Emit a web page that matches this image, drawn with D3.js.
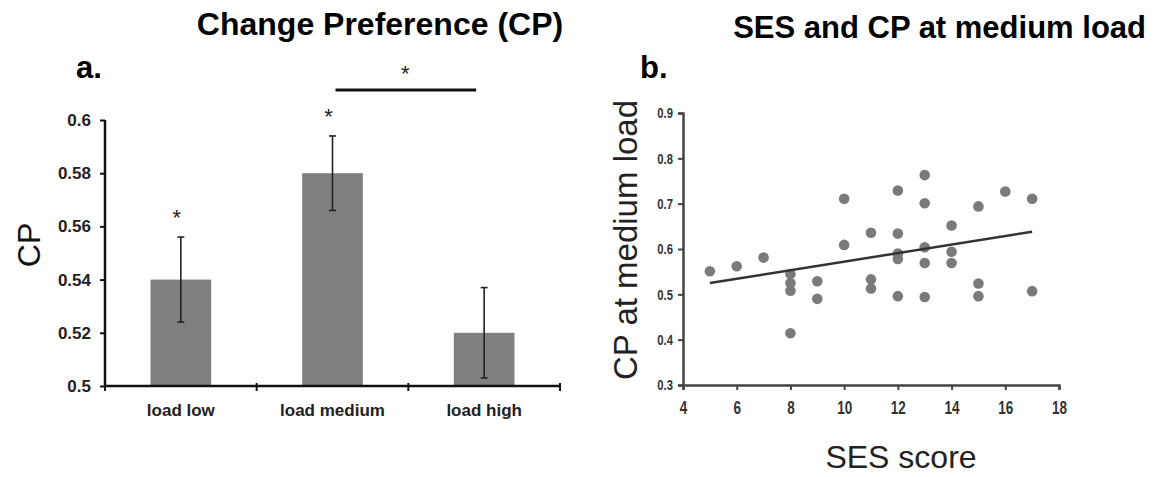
<!DOCTYPE html>
<html>
<head>
<meta charset="utf-8">
<script src="https://cdn.jsdelivr.net/npm/d3@7"></script>
<style>
  body { margin: 0; background: #fff; }
  svg { display: block; font-family: "Liberation Sans", Arial, sans-serif; }
</style>
</head>
<body>
<div id="chart"></div>
<script>
var svgWidth = 1155;
var svgHeight = 477;

// panel a: bar chart
var loadLevels = ["load low", "load medium", "load high"];
var cpMeans = [0.54, 0.58, 0.52];
var cpErrors = [0.016, 0.014, 0.017];
var cpTicks = [0.5, 0.52, 0.54, 0.56, 0.58, 0.6];
var starBars = ["load low", "load medium"];

// panel b: scatter
var sesScore = [5, 6, 7, 8, 8, 8, 8, 9, 9, 10, 10, 11, 11, 11,
  12, 12, 12, 12, 12, 13, 13, 13, 13, 13, 14, 14, 14, 15, 15, 15, 16, 17, 17];
var cpMedium = [0.551, 0.562, 0.581, 0.545, 0.525, 0.508, 0.414, 0.529, 0.490, 0.711, 0.609, 0.636, 0.533, 0.513,
  0.729, 0.634, 0.590, 0.578, 0.496, 0.763, 0.701, 0.604, 0.569, 0.494, 0.652, 0.594, 0.569, 0.694, 0.524, 0.496, 0.727, 0.711, 0.507];
var trendSes = [5, 17];
var trendCp = [0.525, 0.638];
var sesTicks = [4, 6, 8, 10, 12, 14, 16, 18];
var cpTicksB = [0.3, 0.4, 0.5, 0.6, 0.7, 0.8, 0.9];

var svg = d3.select("#chart")
  .append("svg")
  .attr("width", svgWidth)
  .attr("height", svgHeight);

// ---------- panel a ----------
var xScale = d3.scaleBand()
  .domain(loadLevels)
  .range([105, 560])
  .paddingInner(0.6)
  .paddingOuter(0.3);

var yScale = d3.scaleLinear()
  .domain([0.5, 0.6])
  .range([386, 120]);

svg.append("text")
  .attr("x", 380).attr("y", 35)
  .attr("text-anchor", "middle")
  .style("font-size", "32px").style("font-weight", "bold")
  .text("Change Preference (CP)");

svg.append("text")
  .attr("x", 76).attr("y", 78)
  .style("font-size", "31px").style("font-weight", "bold")
  .text("a.");

svg.selectAll("rect.bar")
  .data(loadLevels)
  .enter()
  .append("rect")
  .attr("class", "bar")
  .attr("x", function(d) { return xScale(d); })
  .attr("y", function(d, i) { return yScale(cpMeans[i]); })
  .attr("width", xScale.bandwidth())
  .attr("height", function(d, i) { return yScale(0.5) - yScale(cpMeans[i]); })
  .attr("fill", "#7f7f7f");

// error bars
var eb = svg.selectAll("g.err")
  .data(loadLevels)
  .enter()
  .append("g")
  .attr("class", "err")
  .attr("stroke", "#222")
  .attr("stroke-width", 1.6);
eb.append("line")
  .attr("x1", function(d) { return xScale(d) + xScale.bandwidth() / 2; })
  .attr("x2", function(d) { return xScale(d) + xScale.bandwidth() / 2; })
  .attr("y1", function(d, i) { return yScale(cpMeans[i] + cpErrors[i]); })
  .attr("y2", function(d, i) { return yScale(cpMeans[i] - cpErrors[i]); });
[1, -1].forEach(function(s) {
  eb.append("line")
    .attr("x1", function(d) { return xScale(d) + xScale.bandwidth() / 2 - 3.5; })
    .attr("x2", function(d) { return xScale(d) + xScale.bandwidth() / 2 + 3.5; })
    .attr("y1", function(d, i) { return yScale(cpMeans[i] + s * cpErrors[i]); })
    .attr("y2", function(d, i) { return yScale(cpMeans[i] + s * cpErrors[i]); });
});

// stars above bars
svg.selectAll("text.star")
  .data(starBars)
  .enter()
  .append("text")
  .attr("class", "star")
  .attr("x", function(d) { return xScale(d) + xScale.bandwidth() / 2 - 4; })
  .attr("y", function(d) {
    var i = loadLevels.indexOf(d);
    return yScale(cpMeans[i] + cpErrors[i]) - 12;
  })
  .attr("text-anchor", "middle")
  .style("font-size", "22px")
  .attr("fill", "#222")
  .text("*");

// significance bracket between medium and high
var midX = xScale("load medium") + xScale.bandwidth() / 2;
var highX = xScale("load high") + xScale.bandwidth() / 2;
svg.append("line")
  .attr("x1", midX + 3).attr("x2", highX - 8)
  .attr("y1", 90).attr("y2", 90)
  .attr("stroke", "#111").attr("stroke-width", 3);
svg.append("text")
  .attr("x", (midX + highX) / 2 - 3).attr("y", 81)
  .attr("text-anchor", "middle")
  .style("font-size", "22px")
  .attr("fill", "#222")
  .text("*");

// axes
var yAxis = d3.axisLeft(yScale)
  .tickValues(cpTicks)
  .tickSize(5)
  .tickPadding(9)
  .tickFormat(function(d) { return d3.format("")(+d.toFixed(2)); });
var gy = svg.append("g")
  .attr("transform", "translate(105,0)")
  .call(yAxis);
gy.select(".domain").attr("stroke", "#111").attr("stroke-width", 2.5).attr("d", "M0,386V120");
gy.selectAll(".tick line").attr("stroke", "#111").attr("stroke-width", 2);
gy.selectAll(".tick text")
  .style("font-size", "17px").style("font-weight", "bold").attr("fill", "#222");

var gx = svg.append("g")
  .attr("transform", "translate(0,386)");
gx.append("line")
  .attr("x1", 105).attr("x2", 560)
  .attr("stroke", "#111").attr("stroke-width", 2.5);
gx.selectAll("line.ct")
  .data(d3.range(loadLevels.length + 1))
  .enter()
  .append("line")
  .attr("class", "ct")
  .attr("x1", function(d) { return xScale.range()[0] + d * (xScale.range()[1] - xScale.range()[0]) / loadLevels.length; })
  .attr("x2", function(d) { return xScale.range()[0] + d * (xScale.range()[1] - xScale.range()[0]) / loadLevels.length; })
  .attr("y1", -3).attr("y2", 5)
  .attr("stroke", "#111").attr("stroke-width", 2);
gx.selectAll("text")
  .data(loadLevels)
  .enter()
  .append("text")
  .attr("x", function(d) { return xScale(d) + xScale.bandwidth() / 2; })
  .attr("y", 30)
  .attr("text-anchor", "middle")
  .style("font-size", "17px").style("font-weight", "bold").attr("fill", "#222")
  .text(function(d) { return d; });

svg.append("text")
  .attr("transform", "translate(40,245) rotate(-90)")
  .attr("text-anchor", "middle")
  .style("font-size", "32px")
  .attr("fill", "#111")
  .text("CP");

// ---------- panel b ----------
var xScaleB = d3.scaleLinear()
  .domain([4, 18])
  .range([683, 1059]);
var yScaleB = d3.scaleLinear()
  .domain([0.3, 0.9])
  .range([385, 113]);

svg.append("text")
  .attr("x", 1146).attr("y", 38)
  .attr("text-anchor", "end")
  .style("font-size", "31px").style("font-weight", "bold")
  .text("SES and CP at medium load");

svg.append("text")
  .attr("x", 640).attr("y", 78)
  .style("font-size", "31px").style("font-weight", "bold")
  .text("b.");

var yAxisB = d3.axisLeft(yScaleB)
  .tickValues(cpTicksB)
  .tickSize(5)
  .tickPadding(0)
  .tickFormat(d3.format(".1f"));
var gyb = svg.append("g")
  .attr("transform", "translate(683,0)")
  .call(yAxisB);
gyb.select(".domain").attr("stroke", "#444").attr("stroke-width", 2.5);
gyb.selectAll(".tick line").attr("stroke", "#444").attr("stroke-width", 2);
gyb.selectAll(".tick text")
  .attr("x", null)
  .attr("transform", "translate(-10,0) scale(0.75,1)")
  .style("font-size", "15px").style("font-weight", "bold").attr("fill", "#333");

var xAxisB = d3.axisBottom(xScaleB)
  .tickValues(sesTicks)
  .tickSize(5)
  .tickPadding(0);
var gxb = svg.append("g")
  .attr("transform", "translate(0,385)")
  .call(xAxisB);
gxb.select(".domain").attr("stroke", "#444").attr("stroke-width", 2.5);
gxb.selectAll(".tick line").attr("stroke", "#444").attr("stroke-width", 2);
gxb.selectAll(".tick text")
  .attr("y", null).attr("dy", null)
  .attr("transform", "translate(0,29) scale(0.75,1)")
  .style("font-size", "18px").style("font-weight", "bold").attr("fill", "#333");

svg.selectAll("circle.pt")
  .data(sesScore)
  .enter()
  .append("circle")
  .attr("class", "pt")
  .attr("cx", function(d) { return xScaleB(d); })
  .attr("cy", function(d, i) { return yScaleB(cpMedium[i]); })
  .attr("r", 5.3)
  .attr("fill", "#7a7a7a");

var trend = d3.line()
  .x(function(d) { return xScaleB(d); })
  .y(function(d, i) { return yScaleB(trendCp[i]); });
svg.append("path")
  .attr("d", trend(trendSes))
  .attr("fill", "none")
  .attr("stroke", "#333")
  .attr("stroke-width", 2.5);

svg.append("text")
  .attr("transform", "translate(637,240) rotate(-90)")
  .attr("text-anchor", "middle")
  .style("font-size", "33px")
  .attr("fill", "#222")
  .text("CP at medium load");

svg.append("text")
  .attr("x", 901).attr("y", 468)
  .attr("text-anchor", "middle")
  .style("font-size", "32px")
  .attr("fill", "#222")
  .text("SES score");
</script>
</body>
</html>
